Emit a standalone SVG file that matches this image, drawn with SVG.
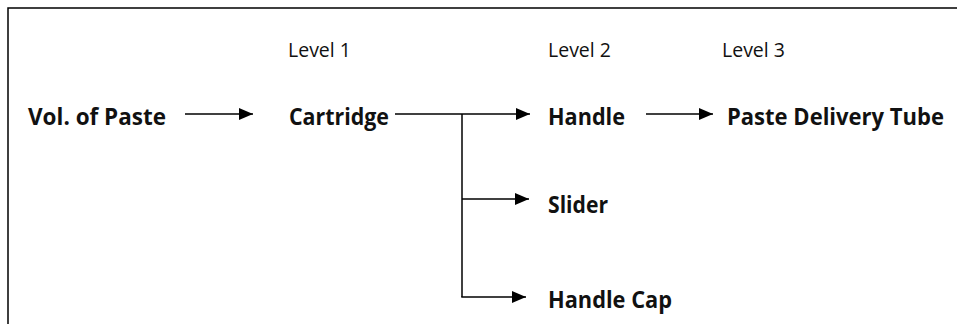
<svg xmlns="http://www.w3.org/2000/svg" width="957" height="324" viewBox="0 0 957 324">
<defs>
<marker id="ah" markerWidth="14" markerHeight="12" refX="14" refY="6" orient="auto" markerUnits="userSpaceOnUse">
<path d="M0,0 L14,6 L0,12 Z" fill="#000"/>
</marker>
<style>
.lbl{font-family:"Open Sans","Liberation Sans",sans-serif;font-weight:bold;font-size:23px;fill:#111}
.lvl{font-family:"Open Sans","Liberation Sans",sans-serif;font-size:19.5px;fill:#111}
.ln{stroke:#000;stroke-width:1.5;fill:none}
</style>
</defs>
<rect width="957" height="324" fill="#fff"/>
<path d="M8,324 V8 H957" stroke="#000" stroke-width="1.5" fill="none"/>
<g id="levels">
<text class="lvl" x="288" y="57">Level 1</text>
<text class="lvl" x="548" y="57">Level 2</text>
<text class="lvl" x="722" y="57">Level 3</text>
</g>
<g id="vol"><text class="lbl" x="28" y="125" textLength="138" lengthAdjust="spacingAndGlyphs">Vol. of Paste</text></g>
<g id="cartridge"><text class="lbl" x="289" y="125" textLength="100" lengthAdjust="spacingAndGlyphs">Cartridge</text></g>
<g id="handle"><text class="lbl" x="548" y="125" textLength="77" lengthAdjust="spacingAndGlyphs">Handle</text></g>
<g id="tube"><text class="lbl" x="727" y="125" textLength="217" lengthAdjust="spacingAndGlyphs">Paste Delivery Tube</text></g>
<g id="slider"><text class="lbl" x="548" y="213" textLength="60" lengthAdjust="spacingAndGlyphs">Slider</text></g>
<g id="cap"><text class="lbl" x="548" y="308" textLength="124" lengthAdjust="spacingAndGlyphs">Handle Cap</text></g>
<g id="connectors">
<line class="ln" x1="185" y1="114" x2="253" y2="114" marker-end="url(#ah)"/>
<line class="ln" x1="395" y1="114" x2="530" y2="114" marker-end="url(#ah)"/>
<line class="ln" x1="646" y1="114" x2="713" y2="114" marker-end="url(#ah)"/>
<line class="ln" x1="462" y1="114" x2="462" y2="297"/>
<line class="ln" x1="462" y1="199" x2="529" y2="199" marker-end="url(#ah)"/>
<line class="ln" x1="461.25" y1="297" x2="526" y2="297" marker-end="url(#ah)"/>
</g>
</svg>
